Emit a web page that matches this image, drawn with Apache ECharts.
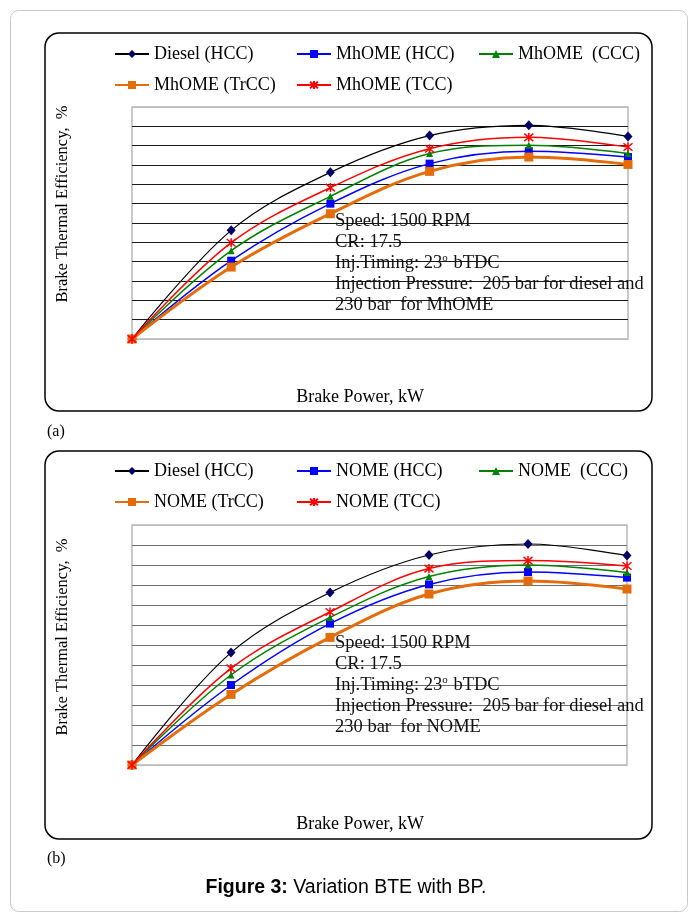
<!DOCTYPE html>
<html>
<head>
<meta charset="utf-8">
<script src="https://cdn.jsdelivr.net/npm/echarts@6/dist/echarts.min.js"></script>
<style>
html,body{margin:0;padding:0;background:#fff;}
#chart{width:691px;height:915px;}
</style>
</head>
<body>
<div id="chart"></div>
<script>
// Brake power load points (no tick labels printed in the source figure)
const categories = ['L0', 'L1', 'L2', 'L3', 'L4', 'L5'];

// Panel (a) – MhOME, values in grid-line units (12 divisions, no labels in source)
const dieselA = [0, 5.62, 8.62, 10.52, 11.05, 10.48];
const hccA    = [0, 4.05, 7.00, 9.07, 9.71, 9.41];
const cccA    = [0, 4.57, 7.38, 9.59, 10.02, 9.59];
const trccA   = [0, 3.72, 6.48, 8.67, 9.41, 9.03];
const tccA    = [0, 4.98, 7.83, 9.84, 10.43, 9.93];

// Panel (b) – NOME
const dieselB = [0, 5.62, 8.62, 10.50, 11.05, 10.47];
const hccB    = [0, 4.00, 7.07, 9.03, 9.65, 9.37];
const cccB    = [0, 4.50, 7.38, 9.42, 10.00, 9.62];
const trccB   = [0, 3.53, 6.38, 8.55, 9.20, 8.80];
const tccB    = [0, 4.83, 7.65, 9.82, 10.22, 9.95];

const namesA = ['Diesel (HCC)', 'MhOME (HCC)', 'MhOME  (CCC)', 'MhOME (TrCC)', 'MhOME (TCC)'];
const namesB = ['Diesel (HCC)', 'NOME (HCC)', 'NOME  (CCC)', 'NOME (TrCC)', 'NOME (TCC)'];

const annotA = ['Speed: 1500 RPM', 'CR: 17.5', 'Inj.Timing: 23{sup|o} bTDC', 'Injection Pressure:  205 bar for diesel and', '230 bar  for MhOME'];
const annotB = ['Speed: 1500 RPM', 'CR: 17.5', 'Inj.Timing: 23{sup|o} bTDC', 'Injection Pressure:  205 bar for diesel and', '230 bar  for NOME'];

const SERIF = '"Liberation Serif", "Times New Roman", serif';
const SANS = '"Liberation Sans", Arial, sans-serif';
const ASTER = 'path://M0,0L10,10M10,0L0,10M5,-1L5,11';

const styles = [
  {color: '#000000', lw: 1.2, symbol: 'diamond', size: [9, 10], item: {color: '#000066'}},
  {color: '#0000ff', lw: 1.5, symbol: 'rect', size: 8, item: {color: '#0000ff'}},
  {color: '#008000', lw: 1.5, symbol: 'triangle', size: 7, item: {color: '#008000'}},
  {color: '#e46c0a', lw: 3, symbol: 'rect', size: 9, item: {color: '#e46c0a'}},
  {color: '#ff0000', lw: 1.5, symbol: ASTER, size: 9, item: {color: 'none', borderColor: '#ff0000', borderWidth: 1.5}}
];

function makeSeries(names, arrays, idx) {
  return arrays.map((d, i) => ({
    type: 'line',
    name: names[i],
    xAxisIndex: idx,
    yAxisIndex: idx,
    data: d,
    smooth: 0.35,
    symbol: styles[i].symbol,
    symbolSize: styles[i].size,
    showSymbol: true,
    lineStyle: {color: styles[i].color, width: styles[i].lw},
    itemStyle: styles[i].item,
    emphasis: {disabled: true},
    animation: false,
    z: 3 + i
  }));
}

const gridSplitColors = ['#b8b8b8'].concat(Array(11).fill('#1a1a1a')).concat(['#b8b8b8']);
const gridSplitColorsB = ['#b8b8b8'].concat(Array(11).fill('#6e6e6e')).concat(['#b8b8b8']);

function xAxis(gi) {
  return {type: 'category', gridIndex: gi, data: categories, boundaryGap: false,
    axisLine: {show: false}, axisTick: {show: false}, axisLabel: {show: false}, splitLine: {show: false}};
}
function yAxis(gi, colors) {
  return {type: 'value', gridIndex: gi, min: 0, max: 12, interval: 1,
    axisLine: {show: false}, axisTick: {show: false}, axisLabel: {show: false},
    splitLine: {show: true, lineStyle: {color: colors, width: 1.2}}};
}

function legendRow(data, left, top) {
  return {
    data: data, left: left, top: top, orient: 'horizontal',
    itemWidth: 34, itemHeight: 10, itemGap: 3,
    textStyle: {fontFamily: SERIF, fontSize: 18, color: '#000', width: 139, lineHeight: 20},
    selectedMode: false
  };
}

function annot(lines, x, y) {
  return {
    type: 'text', x: x, y: y, z: 20,
    style: {
      text: lines.join('\n'),
      fontFamily: SERIF, fontSize: 18.5, fill: '#111', lineHeight: 21,
      rich: {sup: {fontFamily: SERIF, fontSize: 11, verticalAlign: 'top', lineHeight: 21, fill: '#111', padding: [0, 1, 0, 0]}}
    }
  };
}

const chart = echarts.init(document.getElementById('chart'), null, {renderer: 'canvas'});
chart.setOption({
  backgroundColor: '#fff',
  animation: false,
  grid: [
    {left: 132, top: 107, width: 496, height: 232, show: true, borderColor: '#b8b8b8', borderWidth: 1.5, backgroundColor: 'transparent'},
    {left: 132, top: 525, width: 495, height: 240, show: true, borderColor: '#b8b8b8', borderWidth: 1.5, backgroundColor: 'transparent'}
  ],
  xAxis: [xAxis(0), xAxis(1)],
  yAxis: [yAxis(0, gridSplitColors), yAxis(1, gridSplitColorsB)],
  legend: [
    legendRow(namesA.slice(0, 3), 109, 39),
    legendRow(namesA.slice(3), 109, 70),
    legendRow(namesB.slice(0, 3), 109, 456),
    legendRow(namesB.slice(3), 109, 487)
  ],
  series: makeSeries(namesA, [dieselA, hccA, cccA, trccA, tccA], 0)
    .concat(makeSeries(namesB, [dieselB, hccB, cccB, trccB, tccB], 1)),
  graphic: [
    {type: 'rect', shape: {x: 10.5, y: 10.5, width: 677, height: 901, r: 8}, style: {fill: 'none', stroke: '#c8c8c8', lineWidth: 1}, z: -10},
    {type: 'rect', shape: {x: 45, y: 33, width: 607, height: 378, r: 14}, style: {fill: 'none', stroke: '#000', lineWidth: 1.5}, z: -5},
    {type: 'rect', shape: {x: 45, y: 451, width: 607, height: 388, r: 14}, style: {fill: 'none', stroke: '#000', lineWidth: 1.5}, z: -5},
    {type: 'text', x: 63, y: 204, rotation: Math.PI / 2, style: {text: 'Brake Thermal Efficiency,  %', fontFamily: SERIF, fontSize: 16.5, fill: '#000', align: 'center', verticalAlign: 'middle'}},
    {type: 'text', x: 63, y: 637, rotation: Math.PI / 2, style: {text: 'Brake Thermal Efficiency,  %', fontFamily: SERIF, fontSize: 16.5, fill: '#000', align: 'center', verticalAlign: 'middle'}},
    {type: 'text', x: 360, y: 397, style: {text: 'Brake Power, kW', fontFamily: SERIF, fontSize: 18, fill: '#000', align: 'center', verticalAlign: 'middle'}},
    {type: 'text', x: 360, y: 824, style: {text: 'Brake Power, kW', fontFamily: SERIF, fontSize: 18, fill: '#000', align: 'center', verticalAlign: 'middle'}},
    {type: 'text', x: 47, y: 432, style: {text: '(a)', fontFamily: SERIF, fontSize: 16, fill: '#000', align: 'left', verticalAlign: 'middle'}},
    {type: 'text', x: 47, y: 859, style: {text: '(b)', fontFamily: SERIF, fontSize: 16, fill: '#000', align: 'left', verticalAlign: 'middle'}},
    {type: 'text', x: 346, y: 888, style: {text: '{b|Figure 3:} Variation BTE with BP.', fontFamily: SANS, fontSize: 19.5, fill: '#000', align: 'center', verticalAlign: 'middle',
      rich: {b: {fontFamily: SANS, fontSize: 19.5, fontWeight: 'bold', fill: '#000'}}}},
    annot(annotA, 335, 211),
    annot(annotB, 335, 633)
  ]
});
</script>
</body>
</html>
